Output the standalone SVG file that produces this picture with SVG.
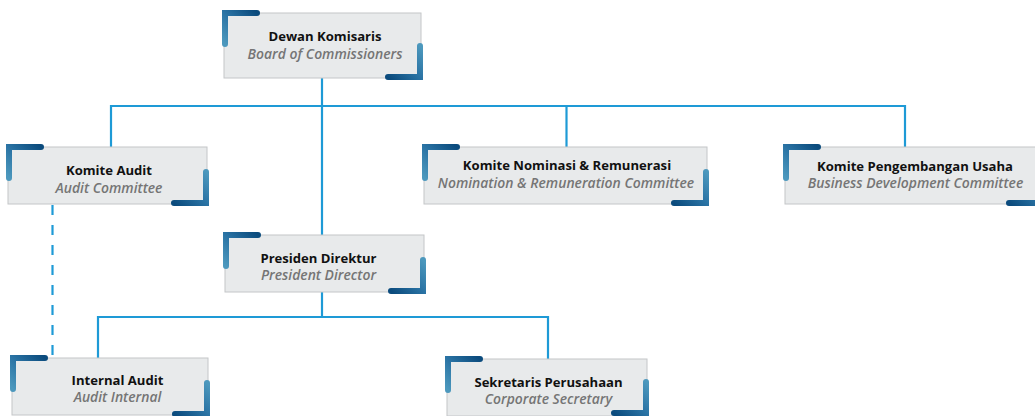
<svg xmlns="http://www.w3.org/2000/svg" xmlns:xlink="http://www.w3.org/1999/xlink" width="1035" height="416" viewBox="0 0 1035 416">
  <style>
    .box { fill: #e8eaeb; stroke: #c4c6c8; stroke-width: 1; }
    .t1 { font-family: "Open Sans", "Noto Sans", sans-serif; font-weight: 700; font-size: 13.1px; fill: #111111; text-anchor: middle; }
    .t2 { font-family: "Open Sans", "Noto Sans", sans-serif; font-style: italic; font-weight: 600; font-size: 13.9px; fill: #757575; text-anchor: middle; }
    .ln { fill: none; stroke: #1e9ad6; stroke-width: 2.2; }
    .dash { stroke-dasharray: 10 10; }
  </style>
  <defs>
    <linearGradient id="bg" x1="0" y1="1" x2="1" y2="0">
      <stop offset="0" stop-color="#4c98bd"/>
      <stop offset="0.5" stop-color="#2a73a4"/>
      <stop offset="1" stop-color="#0b4b7d"/>
    </linearGradient>
    <path id="brk" d="M0,31 V0 H32" fill="none" stroke="url(#bg)" stroke-width="6" stroke-linecap="round" stroke-linejoin="miter"/>
  </defs>

  <g id="connectors">
    <path class="ln" d="M322,78 V235"/>
    <path class="ln" d="M111,147 V106 H905 V147"/>
    <path class="ln" d="M566.5,106 V147"/>
    <path class="ln" d="M98,358 V317 H548 V359"/>
    <path class="ln" d="M322,292 V317"/>
    <path class="ln dash" d="M52.5,205 V358"/>
  </g>

  <g id="dewan-komisaris">
    <rect class="box" x="224" y="13" width="197" height="65"/>
    <use xlink:href="#brk" transform="translate(225,13)"/>
    <use xlink:href="#brk" transform="translate(420,77) rotate(180)"/>
    <text class="t1" x="325" y="41">Dewan Komisaris</text>
    <text class="t2" x="325" y="58.5">Board of Commissioners</text>
  </g>

  <g id="komite-audit">
    <rect class="box" x="8" y="147" width="199" height="57"/>
    <use xlink:href="#brk" transform="translate(9,147)"/>
    <use xlink:href="#brk" transform="translate(206,203) rotate(180)"/>
    <text class="t1" x="109" y="175">Komite Audit</text>
    <text class="t2" x="109" y="193">Audit Committee</text>
  </g>

  <g id="komite-nominasi">
    <rect class="box" x="424" y="147" width="283" height="57"/>
    <use xlink:href="#brk" transform="translate(425,147)"/>
    <use xlink:href="#brk" transform="translate(706,203) rotate(180)"/>
    <text class="t1" x="567" y="170">Komite Nominasi &amp; Remunerasi</text>
    <text class="t2" x="566" y="188">Nomination &amp; Remuneration Committee</text>
  </g>

  <g id="komite-pengembangan">
    <rect class="box" x="785" y="147" width="257" height="57"/>
    <use xlink:href="#brk" transform="translate(786,147)"/>
    <use xlink:href="#brk" transform="translate(1041,203) rotate(180)"/>
    <text class="t1" x="915" y="171">Komite Pengembangan Usaha</text>
    <text class="t2" x="915.5" y="188">Business Development Committee</text>
  </g>

  <g id="presiden-direktur">
    <rect class="box" x="225" y="235" width="199" height="57"/>
    <use xlink:href="#brk" transform="translate(226,235)"/>
    <use xlink:href="#brk" transform="translate(423,291) rotate(180)"/>
    <text class="t1" x="318.5" y="263">Presiden Direktur</text>
    <text class="t2" x="318.5" y="280">President Director</text>
  </g>

  <g id="internal-audit">
    <rect class="box" x="12" y="358" width="196" height="57"/>
    <use xlink:href="#brk" transform="translate(13,358)"/>
    <use xlink:href="#brk" transform="translate(207,414) rotate(180)"/>
    <text class="t1" x="117.5" y="385">Internal Audit</text>
    <text class="t2" x="117.5" y="402">Audit Internal</text>
  </g>

  <g id="sekretaris-perusahaan">
    <rect class="box" x="447" y="359" width="200" height="57"/>
    <use xlink:href="#brk" transform="translate(448,359)"/>
    <use xlink:href="#brk" transform="translate(646,413) rotate(180)"/>
    <text class="t1" x="548.5" y="387">Sekretaris Perusahaan</text>
    <text class="t2" x="548.5" y="404">Corporate Secretary</text>
  </g>
</svg>
